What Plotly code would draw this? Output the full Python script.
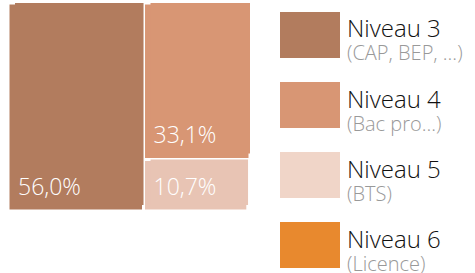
import plotly.graph_objects as go

levels = ["Niveau 3", "Niveau 4", "Niveau 5", "Niveau 6"]
subtitles = ["(CAP, BEP, ...)", "(Bac pro...)", "(BTS)", "(Licence)"]
shares = [56.0, 33.1, 10.7, 0.2]
tile_colors = ["#b27c5e", "#d89674", "#e8c4b4", "#e8892e"]
legend_colors = ["#b27c5e", "#d89674", "#f0d5c8", "#e8892e"]

W, H = 475, 273
FONT = "Open Sans"

# outer tiles (white border) + one inner tile each, inset by marker.pad so labels sit off the edges
ids, labels, parents, values, colors, lw, tmpl, tcol = [], [], [], [], [], [], [], []
for lvl, v, c in zip(levels, shares, tile_colors):
    ids.append(lvl); labels.append(lvl); parents.append(""); values.append(v)
    colors.append(c); lw.append(3); tmpl.append(" "); tcol.append("rgba(0,0,0,0)")
for lvl, v, c in zip(levels, shares, tile_colors):
    if v < 1:
        continue
    ids.append(lvl + "/in"); labels.append(lvl); parents.append(lvl); values.append(v)
    colors.append(c); lw.append(0); tmpl.append("%{value:.1f}%"); tcol.append("white")

fig = go.Figure(go.Treemap(
    ids=ids, labels=labels, parents=parents, values=values,
    branchvalues="total",
    sort=True,
    marker=dict(colors=colors, line=dict(color="white", width=lw),
                pad=dict(t=0, l=7, r=0, b=6)),
    texttemplate=tmpl,
    textposition="bottom left",
    textfont=dict(family=FONT, size=23, color=tcol, weight=300),
    hoverinfo="label+value",
    pathbar=dict(visible=False),
    tiling=dict(pad=0),
    domain=dict(x=[1 / W, 250 / W], y=[1 - 217 / H, 1 - 3 / H]),
))

shapes = []
annotations = []
for i, (lvl, sub, col) in enumerate(zip(levels, subtitles, legend_colors)):
    top = 12 + i * 70
    shapes.append(dict(type="rect", xref="paper", yref="paper",
                       x0=280 / W, x1=340 / W, y0=1 - (top + 46) / H, y1=1 - top / H,
                       fillcolor=col, line=dict(width=0)))
    text = (f"<span style='font-size:24px;color:#111111'>{lvl}</span><br>"
            f"<span style='font-size:20px;color:#999999'>{sub}</span>")
    annotations.append(dict(xref="paper", yref="paper", x=345 / W, y=1 - (top + 27) / H,
                            xanchor="left", yanchor="middle", align="left", text=text,
                            showarrow=False,
                            font=dict(family=FONT, size=18, color="#111111", weight=300)))

fig.update_layout(
    width=W, height=H,
    margin=dict(l=0, r=0, t=0, b=0),
    paper_bgcolor="white",
    separators=", ",
    shapes=shapes,
    annotations=annotations,
    showlegend=False,
)

fig.write_html("out.html", config={"displayModeBar": False},
               post_script="document.body.style.margin='0';document.body.style.overflow='hidden';")
